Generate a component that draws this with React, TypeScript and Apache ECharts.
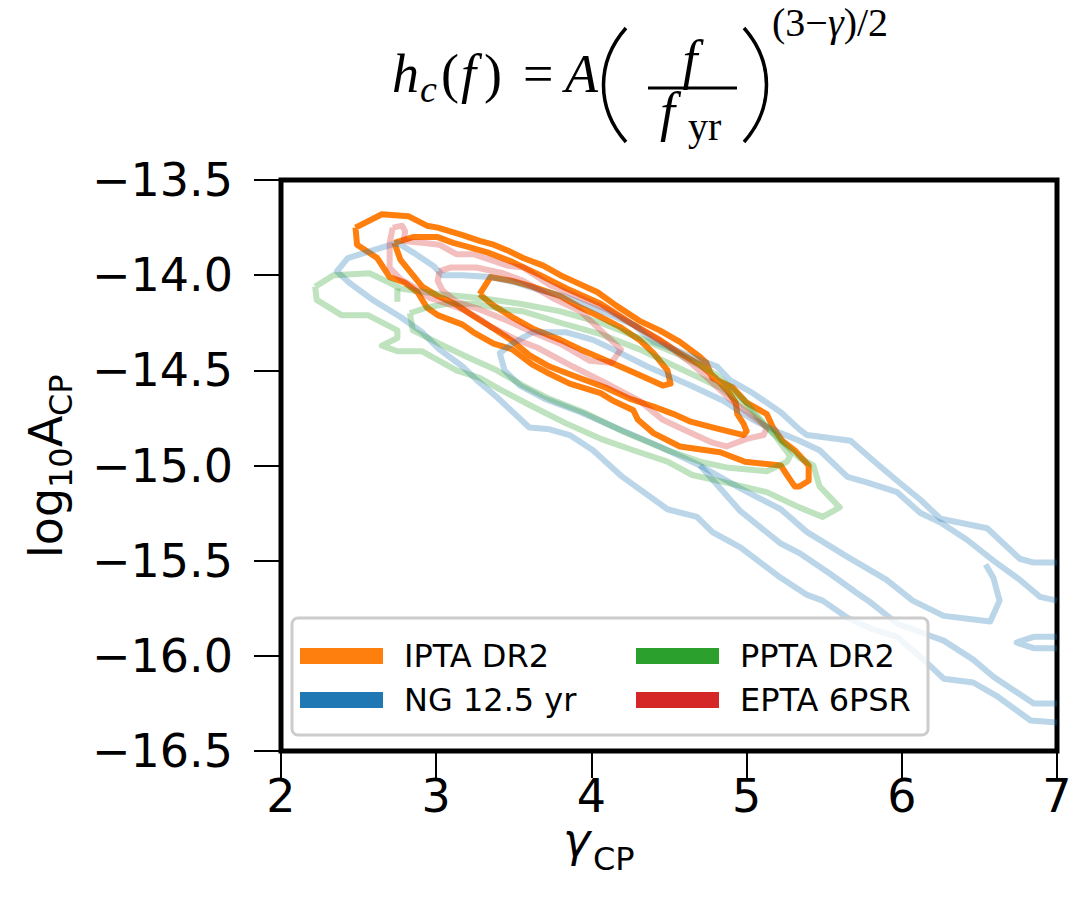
import React, { useEffect, useRef } from 'react';
import * as echarts from 'echarts';

type Pt = [number, number];

const X_TICKS = [2, 3, 4, 5, 6, 7];
const Y_TICKS = [-16.5, -16, -15.5, -15, -14.5, -14, -13.5];
const LEGEND_COL1 = ['IPTA DR2', 'NG 12.5 yr'];
const LEGEND_COL2 = ['PPTA DR2', 'EPTA 6PSR'];

const IPTA_OUTER: Pt[] = [[2.48,-13.75],[2.65,-13.68],[2.82,-13.69],[2.94,-13.74],[3.01,-13.75],[3.17,-13.79],[3.28,-13.82],[3.37,-13.84],[3.46,-13.87],[3.56,-13.91],[3.69,-13.95],[3.80,-14.00],[3.88,-14.03],[4.04,-14.09],[4.16,-14.16],[4.31,-14.24],[4.44,-14.29],[4.57,-14.35],[4.70,-14.43],[4.74,-14.46],[4.78,-14.54],[4.91,-14.59],[5.00,-14.67],[5.13,-14.73],[5.17,-14.80],[5.23,-14.87],[5.31,-14.92],[5.40,-15.00],[5.40,-15.08],[5.34,-15.11],[5.31,-15.11],[5.26,-15.05],[5.22,-15.00],[4.99,-14.98],[4.83,-14.93],[4.57,-14.90],[4.40,-14.83],[4.30,-14.76],[4.27,-14.71],[4.14,-14.66],[4.06,-14.62],[3.86,-14.57],[3.71,-14.51],[3.62,-14.47],[3.49,-14.39],[3.37,-14.36],[3.24,-14.30],[3.17,-14.26],[3.01,-14.21],[2.94,-14.17],[2.88,-14.09],[2.80,-14.04],[2.70,-14.01],[2.62,-13.91],[2.49,-13.84],[2.48,-13.75]];
const IPTA_MID: Pt[] = [[2.73,-13.83],[2.85,-13.80],[3.01,-13.80],[3.11,-13.83],[3.20,-13.85],[3.33,-13.88],[3.49,-13.93],[3.67,-14.00],[3.84,-14.07],[4.06,-14.15],[4.27,-14.26],[4.44,-14.34],[4.57,-14.41],[4.70,-14.47],[4.80,-14.54],[4.88,-14.61],[4.93,-14.67],[4.94,-14.73],[4.98,-14.78],[5.00,-14.82],[4.98,-14.84],[4.78,-14.80],[4.64,-14.77],[4.53,-14.73],[4.40,-14.69],[4.25,-14.65],[4.09,-14.59],[3.89,-14.53],[3.73,-14.48],[3.60,-14.42],[3.48,-14.34],[3.37,-14.28],[3.25,-14.22],[3.12,-14.15],[3.01,-14.11],[2.91,-14.06],[2.82,-13.97],[2.77,-13.92],[2.73,-13.83]];
const IPTA_INNER: Pt[] = [[3.28,-14.10],[3.35,-14.01],[3.49,-14.03],[3.62,-14.06],[3.80,-14.11],[3.93,-14.17],[4.06,-14.22],[4.18,-14.27],[4.31,-14.34],[4.40,-14.41],[4.49,-14.50],[4.51,-14.57],[4.46,-14.58],[4.27,-14.51],[4.10,-14.45],[3.93,-14.39],[3.80,-14.34],[3.62,-14.28],[3.49,-14.22],[3.37,-14.16],[3.28,-14.10]];

const NG_OUTER: Pt[] = [[7.00,-15.51],[6.85,-15.51],[6.76,-15.49],[6.55,-15.33],[6.25,-15.28],[6.12,-15.18],[5.97,-15.08],[5.81,-14.97],[5.67,-14.87],[5.39,-14.84],[5.34,-14.81],[5.22,-14.72],[5.04,-14.62],[4.89,-14.55],[4.81,-14.48],[4.68,-14.44],[4.53,-14.39],[4.40,-14.35],[4.27,-14.26],[4.10,-14.20],[3.82,-14.11],[3.67,-14.08],[3.52,-14.04],[3.35,-14.01],[3.17,-14.00],[3.04,-14.00],[2.98,-13.95],[2.85,-13.88],[2.75,-13.83],[2.59,-13.87],[2.43,-13.91],[2.36,-13.98],[2.44,-14.04],[2.59,-14.13],[2.77,-14.22],[2.91,-14.30],[3.02,-14.39],[3.17,-14.48],[3.26,-14.55],[3.39,-14.64],[3.60,-14.80],[3.73,-14.81],[3.86,-14.84],[4.01,-14.92],[4.20,-15.06],[4.49,-15.23],[4.68,-15.27],[4.78,-15.35],[4.96,-15.43],[5.09,-15.51],[5.22,-15.59],[5.39,-15.68],[5.49,-15.71],[5.65,-15.80],[5.81,-15.86],[5.97,-15.90],[6.14,-16.02],[6.27,-16.12],[6.46,-16.14],[6.61,-16.21],[6.83,-16.34],[7.00,-16.35]];
const NG_INNER: Pt[] = [[7.00,-15.71],[6.89,-15.69],[6.76,-15.60],[6.59,-15.50],[6.42,-15.39],[6.25,-15.30],[6.12,-15.25],[5.97,-15.14],[5.78,-15.09],[5.65,-15.06],[5.47,-14.92],[5.34,-14.87],[5.22,-14.83],[5.04,-14.76],[4.85,-14.66],[4.64,-14.58],[4.36,-14.48],[4.14,-14.39],[4.01,-14.34],[3.84,-14.30],[3.62,-14.30],[3.49,-14.36],[3.41,-14.41],[3.44,-14.50],[3.54,-14.58],[3.70,-14.65],[3.93,-14.72],[4.18,-14.81],[4.44,-14.90],[4.70,-15.00],[4.96,-15.12],[5.22,-15.23],[5.39,-15.35],[5.65,-15.48],[5.90,-15.60],[6.07,-15.71],[6.27,-15.79],[6.57,-15.82],[6.63,-15.71],[6.59,-15.59],[6.54,-15.52]];
const NG_BRANCH: Pt[] = [[4.70,-15.00],[4.96,-15.24],[5.22,-15.41],[5.34,-15.46],[5.54,-15.57],[5.71,-15.67],[5.80,-15.72],[5.97,-15.83],[6.20,-15.90],[6.27,-15.92],[6.46,-16.02],[6.59,-16.11],[6.85,-16.25],[7.00,-16.25]];
const NG_ISLAND: Pt[] = [[7.00,-15.90],[6.85,-15.90],[6.74,-15.93],[6.85,-15.96],[7.00,-15.96]];

const PPTA_OUTER: Pt[] = [[2.22,-14.06],[2.34,-14.00],[2.57,-13.99],[2.70,-14.04],[2.77,-14.07],[3.02,-14.10],[3.28,-14.12],[3.54,-14.15],[3.80,-14.19],[4.06,-14.25],[4.31,-14.33],[4.57,-14.42],[4.80,-14.52],[4.99,-14.66],[5.12,-14.79],[5.25,-14.89],[5.34,-14.96],[5.43,-15.00],[5.47,-15.11],[5.60,-15.22],[5.49,-15.27],[5.34,-15.22],[5.13,-15.14],[4.87,-15.09],[4.65,-15.05],[4.49,-14.98],[4.27,-14.92],[4.06,-14.86],[3.84,-14.78],[3.62,-14.69],[3.41,-14.60],[3.28,-14.54],[3.13,-14.50],[2.91,-14.40],[2.75,-14.40],[2.65,-14.37],[2.75,-14.33],[2.75,-14.29],[2.56,-14.21],[2.39,-14.21],[2.23,-14.13],[2.22,-14.06]];
const PPTA_STUB: Pt[] = [[2.75,-14.07],[2.75,-14.14]];
const PPTA_INNER: Pt[] = [[2.83,-14.20],[2.94,-14.17],[3.07,-14.15],[3.26,-14.15],[3.43,-14.18],[3.56,-14.19],[3.80,-14.25],[4.06,-14.31],[4.31,-14.39],[4.57,-14.49],[4.83,-14.59],[5.02,-14.71],[5.18,-14.84],[5.28,-14.95],[5.26,-14.98],[5.13,-15.03],[4.87,-15.01],[4.70,-14.98],[4.49,-14.92],[4.20,-14.82],[3.95,-14.72],[3.73,-14.65],[3.56,-14.58],[3.39,-14.50],[3.20,-14.43],[3.02,-14.36],[2.85,-14.29],[2.83,-14.20]];

const EPTA_OUTER: Pt[] = [[2.72,-13.75],[2.78,-13.74],[2.80,-13.77],[2.79,-13.82],[2.91,-13.83],[3.02,-13.84],[3.13,-13.89],[3.24,-13.89],[3.35,-13.92],[3.46,-13.95],[3.56,-13.96],[3.73,-14.05],[3.93,-14.12],[4.10,-14.18],[4.31,-14.28],[4.49,-14.37],[4.64,-14.46],[4.76,-14.55],[4.89,-14.65],[5.02,-14.73],[5.13,-14.80],[5.11,-14.84],[5.00,-14.86],[4.87,-14.90],[4.78,-14.88],[4.59,-14.81],[4.46,-14.76],[4.31,-14.66],[4.10,-14.57],[3.88,-14.48],[3.65,-14.38],[3.52,-14.34],[3.35,-14.27],[3.26,-14.22],[3.17,-14.18],[3.07,-14.15],[2.96,-14.12],[2.85,-14.06],[2.77,-14.02],[2.70,-13.96],[2.70,-13.83],[2.72,-13.75]];
const EPTA_INNER: Pt[] = [[3.02,-13.98],[3.09,-13.96],[3.26,-13.96],[3.43,-13.99],[3.56,-14.03],[3.75,-14.12],[3.93,-14.19],[4.06,-14.29],[4.19,-14.39],[4.13,-14.46],[3.99,-14.45],[3.80,-14.36],[3.62,-14.30],[3.46,-14.24],[3.28,-14.18],[3.13,-14.14],[3.04,-14.08],[3.01,-14.03],[3.02,-13.98]];

const C_ORANGE = '#ff7f0e';
const C_BLUE = '#1f77b4';
const C_GREEN = '#2ca02c';
const C_RED = '#d62728';

const MATH_FONT = 'Liberation Serif';
const SANS = 'DejaVu Sans';

function contour(name: string, data: Pt[], color: string, opacity: number): any {
  return {
    type: 'line',
    name,
    data,
    showSymbol: false,
    symbol: 'none',
    silent: true,
    smooth: false,
    itemStyle: { color, opacity: 1 },
    lineStyle: { color, width: 6, opacity, join: 'round', cap: 'butt' },
    emphasis: { disabled: true },
  };
}

function mathText(text: string, x: number, baseline: number, size: number, italic: boolean, align = 'left'): any {
  return {
    type: 'text',
    x,
    y: baseline - 0.3375 * size,
    z: 30,
    style: {
      text,
      fontSize: size,
      fontFamily: MATH_FONT,
      fontStyle: italic ? 'italic' : 'normal',
      fill: '#000',
      textAlign: align,
      textVerticalAlign: 'middle',
    },
  };
}

function sansText(text: string, x: number, baseline: number, size: number, italic: boolean, lh?: number): any {
  return {
    type: 'text',
    x,
    y: baseline - 0.346 * size,
    style: {
      text,
      fontSize: size,
      fontFamily: SANS,
      fontStyle: italic ? 'italic' : 'normal',
      fill: '#000',
      textAlign: 'left',
      textVerticalAlign: 'middle',
      lineHeight: lh ?? size,
    },
  };
}

export default function App() {
  const ref = useRef<HTMLDivElement>(null);

  useEffect(() => {
    if (!ref.current) return;
    const chart = echarts.init(ref.current, undefined, { renderer: 'svg' });

    const series = [
      contour(LEGEND_COL1[0], IPTA_OUTER, C_ORANGE, 1),
      contour(LEGEND_COL1[0], IPTA_MID, C_ORANGE, 1),
      contour(LEGEND_COL1[0], IPTA_INNER, C_ORANGE, 1),
      contour(LEGEND_COL1[1], NG_OUTER, C_BLUE, 0.3),
      contour(LEGEND_COL1[1], NG_INNER, C_BLUE, 0.3),
      contour(LEGEND_COL1[1], NG_BRANCH, C_BLUE, 0.3),
      contour(LEGEND_COL1[1], NG_ISLAND, C_BLUE, 0.3),
      contour(LEGEND_COL2[0], PPTA_OUTER, C_GREEN, 0.3),
      contour(LEGEND_COL2[0], PPTA_STUB, C_GREEN, 0.3),
      contour(LEGEND_COL2[0], PPTA_INNER, C_GREEN, 0.3),
      contour(LEGEND_COL2[1], EPTA_OUTER, C_RED, 0.3),
      contour(LEGEND_COL2[1], EPTA_INNER, C_RED, 0.3),
    ];

    const legendBase = {
      orient: 'vertical',
      top: 640,
      itemWidth: 83,
      itemHeight: 16,
      itemGap: 12,
      icon: 'rect',
      padding: 0,
      selectedMode: false,
      z: 40,
      textStyle: { fontSize: 32, fontFamily: SANS, color: '#000', lineHeight: 32, padding: [0, 0, 0, 16] },
    };
    const colorOf: Record<string, string> = {
      [LEGEND_COL1[0]]: C_ORANGE,
      [LEGEND_COL1[1]]: C_BLUE,
      [LEGEND_COL2[0]]: C_GREEN,
      [LEGEND_COL2[1]]: C_RED,
    };
    const legendData = (names: string[]) =>
      names.map((n) => ({ name: n, icon: 'rect', itemStyle: { color: colorOf[n], opacity: 1, borderWidth: 0 } }));

    const option: any = {
      animation: false,
      textStyle: { fontFamily: SANS },
      grid: {
        left: 281,
        top: 180,
        width: 776,
        height: 571,
        show: true,
        borderColor: '#000',
        borderWidth: 5,
        backgroundColor: 'transparent',
        containLabel: false,
      },
      xAxis: {
        type: 'value',
        min: X_TICKS[0],
        max: X_TICKS[X_TICKS.length - 1],
        interval: 1,
        axisLine: { show: false },
        splitLine: { show: false },
        axisTick: { show: true, length: 27, lineStyle: { color: '#000', width: 2 } },
        axisLabel: {
          fontSize: 46,
          lineHeight: 44,
          fontFamily: SANS,
          color: '#000',
          margin: 23,
          formatter: (v: number) => String(v),
        },
      },
      yAxis: {
        type: 'value',
        min: Y_TICKS[0],
        max: Y_TICKS[Y_TICKS.length - 1],
        interval: 0.5,
        axisLine: { show: false },
        splitLine: { show: false },
        axisTick: { show: true, length: 27, lineStyle: { color: '#000', width: 2 } },
        axisLabel: {
          fontSize: 46,
          fontFamily: SANS,
          color: '#000',
          margin: 48,
          formatter: (v: number) => (v < 0 ? '\u2212' : '') + Math.abs(v).toFixed(1),
        },
      },
      legend: [
        { ...legendBase, left: 300, data: legendData(LEGEND_COL1) },
        { ...legendBase, left: 636, data: legendData(LEGEND_COL2) },
      ],
      graphic: [
        {
          type: 'rect',
          z: 35,
          shape: { x: 292, y: 618, width: 636, height: 117, r: 6 },
          style: { fill: 'rgba(255,255,255,0.8)', stroke: '#cccccc', lineWidth: 3 },
        },
        // formula title
        mathText('h', 392, 92, 54, true),
        mathText('c', 420, 102, 38, true),
        mathText('(', 441, 92, 54, false),
        mathText('f', 461, 92, 54, true),
        mathText(')', 484, 92, 54, false),
        mathText('=', 523, 92, 54, false),
        mathText('A', 565, 92, 54, true),
        {
          type: 'bezierCurve',
          z: 30,
          shape: { x1: 626, y1: 28, cpx1: 596, cpy1: 62, cpx2: 596, cpy2: 108, x2: 626, y2: 142 },
          style: { stroke: '#000', lineWidth: 3.5, fill: 'none' },
        },
        mathText('f', 690, 78, 54, true, 'center'),
        {
          type: 'line',
          z: 30,
          shape: { x1: 648, y1: 88, x2: 737, y2: 88 },
          style: { stroke: '#000', lineWidth: 3 },
        },
        mathText('f', 660, 130, 54, true),
        mathText('yr', 688, 140, 40, false),
        {
          type: 'bezierCurve',
          z: 30,
          shape: { x1: 744, y1: 28, cpx1: 774, cpy1: 62, cpx2: 774, cpy2: 108, x2: 744, y2: 142 },
          style: { stroke: '#000', lineWidth: 3.5, fill: 'none' },
        },
        {
          type: 'text',
          x: 772,
          y: 36 - 0.3375 * 40,
          z: 30,
          style: {
            text: '{a|(3\u2212}{b|\u03b3}{a|)/2}',
            textVerticalAlign: 'middle',
            rich: {
              a: { fontSize: 40, fontFamily: MATH_FONT, fill: '#000', color: '#000' },
              b: { fontSize: 40, fontFamily: MATH_FONT, fontStyle: 'italic', fill: '#000', color: '#000' },
            },
          },
        },
        // x axis title
        {
          type: 'group',
          x: 563,
          y: 856,
          children: [
            sansText('\u03b3', 0, 0, 46, true, 30),
            sansText('CP', 30, 14, 32, false, 26),
          ],
        },
        // y axis title (rotated)
        {
          type: 'group',
          x: 62,
          y: 558,
          rotation: Math.PI / 2,
          children: [
            sansText('log', 0, 0, 46, false),
            sansText('10', 70, 10, 32, false),
            sansText('A', 111, 0, 46, false),
            sansText('CP', 142, 10, 32, false),
          ],
        },
      ],
      series,
    };

    chart.setOption(option);
    return () => chart.dispose();
  }, []);

  return (
    <div
      ref={ref}
      style={{ position: 'absolute', left: 0, top: 0, width: 1092, height: 903, background: '#fff' }}
    />
  );
}
